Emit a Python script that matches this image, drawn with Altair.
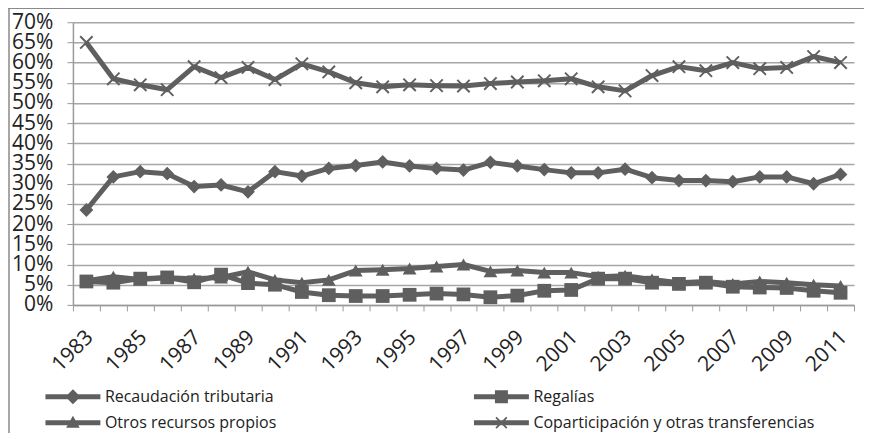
import altair as alt
import pandas as pd

years = list(range(1983, 2012))

series_names = [
    "Recaudación tributaria",
    "Regalías",
    "Otros recursos propios",
    "Coparticipación y otras transferencias",
]

recaudacion = [23.5, 31.7, 33.0, 32.5, 29.3, 29.7, 28.0, 33.0, 31.9, 33.8, 34.5, 35.4, 34.4, 33.8, 33.4,
               35.3, 34.4, 33.5, 32.7, 32.7, 33.6, 31.5, 30.8, 30.8, 30.5, 31.7, 31.7, 30.0, 32.3]
regalias = [5.8, 5.5, 6.5, 6.8, 5.6, 7.5, 5.4, 5.0, 3.2, 2.4, 2.2, 2.2, 2.5, 2.8, 2.6,
            1.9, 2.3, 3.5, 3.7, 6.5, 6.5, 5.5, 5.2, 5.5, 4.5, 4.3, 4.2, 3.5, 3.0]
otros = [6.0, 7.0, 6.3, 6.7, 6.5, 6.8, 8.2, 6.2, 5.5, 6.2, 8.5, 8.7, 9.0, 9.5, 10.0,
         8.3, 8.5, 8.0, 8.0, 7.0, 7.2, 6.3, 5.5, 5.8, 5.2, 5.8, 5.5, 5.0, 4.7]
coparticipacion = [65.0, 56.0, 54.5, 53.3, 59.0, 56.3, 58.8, 55.8, 59.7, 57.7, 55.0, 54.0, 54.5, 54.3, 54.2,
                   54.8, 55.2, 55.5, 56.0, 54.0, 53.0, 56.8, 59.0, 58.0, 60.0, 58.5, 58.8, 61.5, 60.0]

y_ticks = [0, 0.05, 0.1, 0.15, 0.2, 0.25, 0.3, 0.35, 0.4, 0.45, 0.5, 0.55, 0.6, 0.65, 0.7]

# legend is filled column by column: this order gives the reference's two rows
legend_order = [
    "Recaudación tributaria",
    "Otros recursos propios",
    "Regalías",
    "Coparticipación y otras transferencias",
]

rows = []
for name, vals in zip(series_names, [recaudacion, regalias, otros, coparticipacion]):
    for yr, v in zip(years, vals):
        rows.append({"year": yr, "serie": name, "value": v / 100.0})
df = pd.DataFrame(rows)

GRAY = "#5f5f5f"
FONT = "Open Sans"
TXT = "#222222"

X_PATH = ("M-1,-0.8 L-0.8,-1 L0,-0.2 L0.8,-1 L1,-0.8 L0.2,0 L1,0.8 L0.8,1 "
          "L0,0.2 L-0.8,1 L-1,0.8 L-0.2,0 Z")
marker_range = ["diamond", "square", "triangle-up", X_PATH]

LINE = "M-2.75,-0.25 H2.75 V0.25 H-2.75 Z "
leg_shapes = {
    "Recaudación tributaria": LINE + "M0,-0.75 L0.75,0 L0,0.75 L-0.75,0 Z",
    "Regalías": LINE + "M-0.65,-0.65 H0.65 V0.65 H-0.65 Z",
    "Otros recursos propios": LINE + "M0,-0.7 L0.68,0.5 L-0.68,0.5 Z",
    "Coparticipación y otras transferencias": LINE
    + "M-0.6,-0.48 L-0.48,-0.6 L0,-0.12 L0.48,-0.6 L0.6,-0.48 L0.12,0 L0.6,0.48 L0.48,0.6 "
      "L0,0.12 L-0.48,0.6 L-0.6,0.48 L-0.12,0 Z",
}
leg_range = [leg_shapes[n] for n in legend_order]

x_enc = alt.X(
    "year:O",
    title=None,
    axis=alt.Axis(
        labelExpr="datum.value % 2 == 1 ? datum.label : ''",
        labelAngle=-45,
        labelAlign="right",
        labelBaseline="middle",
        labelOverlap=False,
        labelFontSize=21,
        labelFont=FONT,
        labelColor=TXT,
        labelPadding=23,
        labelOffset=3,
        tickBand="extent",
        tickSize=6,
        tickColor="#9a9a9a",
        domainColor="#9a9a9a",
        domainWidth=1.5,
        grid=False,
    ),
)
y_enc = alt.Y(
    "value:Q",
    title=None,
    scale=alt.Scale(domain=[0, 0.7], nice=False),
    axis=alt.Axis(
        values=y_ticks,
        format=".0%",
        labelFontSize=21,
        labelFont=FONT,
        labelColor=TXT,
        labelPadding=14,
        labelOverlap=False,
        tickSize=6,
        tickColor="#9a9a9a",
        domainColor="#9a9a9a",
        domainWidth=1.5,
        gridColor="#a6a6a6",
        gridWidth=1.5,
    ),
)

base = alt.Chart(df)

lines = base.mark_line(color=GRAY, strokeWidth=5, strokeJoin="round").encode(
    x=x_enc, y=y_enc, detail="serie:N"
)

points = base.mark_point(filled=True, color=GRAY, opacity=1, strokeWidth=0).encode(
    x=x_enc,
    y=y_enc,
    shape=alt.Shape("serie:N", scale=alt.Scale(domain=series_names, range=marker_range), legend=None),
    size=alt.value(190),
)

legend_layer = base.mark_point(filled=True, color=GRAY, opacity=0).encode(
    x=x_enc,
    y=y_enc,
    shape=alt.Shape(
        "serie:N",
        scale=alt.Scale(domain=legend_order, range=leg_range),
        legend=alt.Legend(
            title=None,
            orient="none",
            legendX=-10,
            legendY=365,
            columns=2,
            columnPadding=197,
            rowPadding=8,
            padding=0,
            symbolSize=400,
            symbolOpacity=1,
            symbolFillColor=GRAY,
            symbolStrokeColor=GRAY,
            symbolStrokeWidth=0,
            labelOffset=22,
            labelFont=FONT,
            labelFontSize=16,
            labelColor=TXT,
            labelLimit=400,
        ),
    ),
)

border_top = alt.Chart(pd.DataFrame({"k": [0]})).mark_rule(color="#8a8a8a", strokeWidth=1.5).encode(
    x=alt.value(-65), x2=alt.value(800), y=alt.value(-14)
)
border_left = alt.Chart(pd.DataFrame({"k": [0]})).mark_rule(color="#8a8a8a", strokeWidth=1.5).encode(
    x=alt.value(-64), y=alt.value(-14), y2=alt.value(430)
)

chart = alt.layer(border_top, border_left, lines, points, legend_layer).resolve_scale(
    shape="independent"
).properties(
    width=782,
    height=283,
    padding={"left": 65, "top": 14, "right": 10, "bottom": 128},
    autosize=alt.AutoSizeParams(type="none"),
).configure_view(stroke=None)

chart.save("out.html", embed_options={"renderer": "svg", "actions": False})
